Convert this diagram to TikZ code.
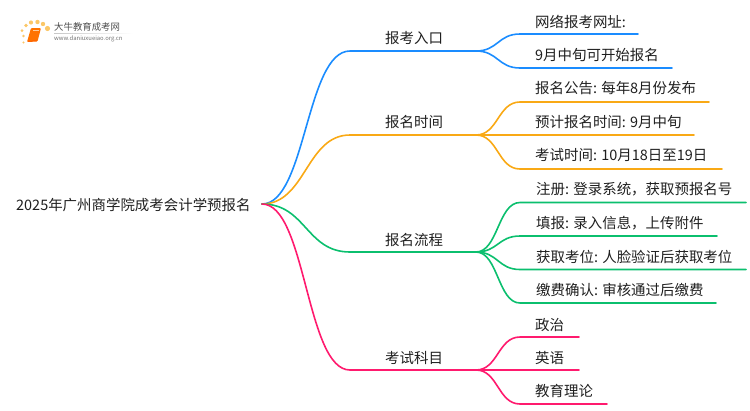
\documentclass[tikz,border=0pt]{standalone}
\usepackage{fontspec}
\setmainfont{Noto Sans CJK SC}
\begin{document}
\begin{tikzpicture}[x=1pt,y=-1pt,
  txt/.style={anchor=west,inner sep=0pt,text=black!88,font=\fontsize{14.45pt}{16pt}\selectfont},
  link/.style={line width=1.6pt,line cap=round},
  blueb/.style={link,color=bluec},orangeb/.style={link,color=orangec},
  greenb/.style={link,color=greenc},pinkb/.style={link,color=pinkc},
  logodot/.style={fill=orangec!65,draw=none}]
\definecolor{bluec}{HTML}{1A8CFF}
\definecolor{orangec}{HTML}{F9A915}
\definecolor{greenc}{HTML}{0BBF6E}
\definecolor{pinkc}{HTML}{FF1A6E}
\useasboundingbox (0,0) rectangle (750,410);
% logo
\foreach \a/\b/\r in {47.5/28.5/2.6,43/24/2.2,37.5/22/2.2,31/22.5/2.1,26/25.5/1.9,22/30.5/1.5,23.5/36/1.4,23.5/42.5/1.1}{\fill[logodot] (\a,\b) circle (\r);}
\fill[orange!90!red,rounded corners=1pt] (31,28) -- (41,28) -- (37.5,41.5) -- (27,42) -- cycle;
\draw[white!60!orange,line width=.6pt] (33,30.5) -- (39,30.5);
\draw[orange!60!red,line width=.5pt] (27.5,41.2) -- (37,40.8);
\shade[left color=black!22,right color=white] (54,33) rectangle (133,33.6);
\node[inner sep=0pt,anchor=west,text=black!70,font=\fontsize{9.4pt}{10pt}\selectfont] (logoa) at (54,27) {大牛教育成考网};
\node[inner sep=0pt,anchor=west,text=black!55,font=\fontsize{5.9pt}{7pt}\selectfont] (logob) at (54,38.5) {www.daniuxueiao.org.cn};
% root
\coordinate (r) at (262,204);
\node[txt] (root) at (16,205) {2025年广州商学院成考会计学预报名};
% level 1 coordinates
\coordinate (a0) at (350,51);  \coordinate (a1) at (476,51);
\coordinate (b0) at (350,135); \coordinate (b1) at (476,135);
\coordinate (c0) at (350,252); \coordinate (c1) at (476,252);
\coordinate (d0) at (350,370); \coordinate (d1) at (476,370);
\node[txt] (na) at (385,38) {报考入口};
\node[txt] (nb) at (385,122) {报名时间};
\node[txt] (nc) at (385,240) {报名流程};
\node[txt] (nd) at (385,358) {考试科目};
% leaves
\node[txt] (a1t) at (535,21.5) {网络报考网址:};
\node[txt] (a2t) at (535,55) {9月中旬可开始报名};
\node[txt] (b1t) at (535,88.5) {报名公告: 每年8月份发布};
\node[txt] (b2t) at (535,122) {预计报名时间: 9月中旬};
\node[txt] (b3t) at (535,155.5) {考试时间: 10月18日至19日};
\node[txt] (c1t) at (536,189) {注册: 登录系统，获取预报名号};
\node[txt] (c2t) at (536,223) {填报: 录入信息，上传附件};
\node[txt] (c3t) at (536,257) {获取考位: 人脸验证后获取考位};
\node[txt] (c4t) at (536,290) {缴费确认: 审核通过后缴费};
\node[txt] (d1t) at (535,325) {政治};
\node[txt] (d2t) at (535,358) {英语};
\node[txt] (d3t) at (535,391) {教育理论};
% leaf line ends
\coordinate (a1e) at (638,34);  \coordinate (a2e) at (672,68);
\coordinate (b1e) at (709,102); \coordinate (b2e) at (694,135); \coordinate (b3e) at (722,169);
\coordinate (c1e) at (746,202.5); \coordinate (c2e) at (717,236); \coordinate (c3e) at (746,269.5); \coordinate (c4e) at (716,303);
\coordinate (d1e) at (579,337); \coordinate (d2e) at (579,370); \coordinate (d3e) at (607,404);
% blue
\draw[blueb] (r) .. controls (306,204) and (306,51) .. (a0) -- (a1);
\draw[blueb] (a1) .. controls (498,51) and (498,34) .. (520,34) -- (a1e);
\draw[blueb] (a1) .. controls (498,51) and (498,68) .. (520,68) -- (a2e);
% orange
\draw[orangeb] (r) .. controls (306,204) and (306,135) .. (b0) -- (b1);
\draw[orangeb] (b1) .. controls (498,135) and (498,102) .. (520,102) -- (b1e);
\draw[orangeb] (b1) -- (b2e);
\draw[orangeb] (b1) .. controls (498,135) and (498,169) .. (520,169) -- (b3e);
% green
\draw[greenb] (r) .. controls (306,204) and (306,252) .. (c0) -- (c1);
\draw[greenb] (c1) .. controls (498,252) and (498,202.5) .. (520,202.5) -- (c1e);
\draw[greenb] (c1) .. controls (498,252) and (498,236) .. (520,236) -- (c2e);
\draw[greenb] (c1) .. controls (498,252) and (498,269.5) .. (520,269.5) -- (c3e);
\draw[greenb] (c1) .. controls (498,252) and (498,303) .. (520,303) -- (c4e);
% pink
\draw[pinkb] (r) .. controls (306,204) and (306,370) .. (d0) -- (d1);
\draw[pinkb] (d1) .. controls (498,370) and (498,337) .. (520,337) -- (d1e);
\draw[pinkb] (d1) -- (d2e);
\draw[pinkb] (d1) .. controls (498,370) and (498,404) .. (520,404) -- (d3e);
\end{tikzpicture}
\end{document}
